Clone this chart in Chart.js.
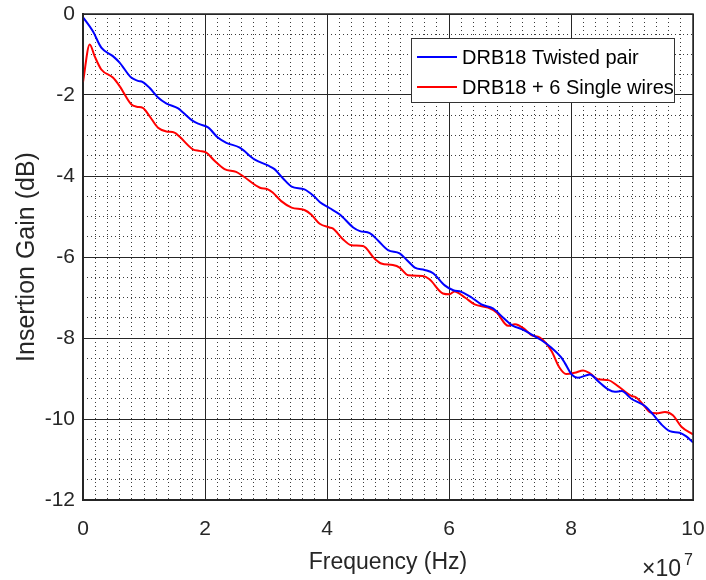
<!DOCTYPE html>
<html>
<head>
<meta charset="utf-8">
<script src="https://cdn.jsdelivr.net/npm/chart.js@4.4.0/dist/chart.umd.min.js"></script>
<style>
body { margin: 0; background: #fff; }
</style>
</head>
<body>
<canvas id="chart" width="706" height="580"></canvas>
<script>
// frequency in units of 1e7 Hz, gain in dB
const seriesNames = ['DRB18 Twisted pair', 'DRB18 + 6 Single wires'];
const seriesColors = ['#0000ff', '#ff0000'];
const xTicks = [0, 2, 4, 6, 8, 10];
const yTicks = [0, -2, -4, -6, -8, -10, -12];

const twistedFreq = [0.0, 0.16, 0.30, 0.49, 0.60, 0.79, 0.90, 0.98, 1.09, 1.23, 1.37, 1.56, 1.64, 1.80, 1.91, 2.05,
	2.21, 2.35, 2.57, 2.81, 3.03, 3.14, 3.28, 3.42, 3.63, 3.80, 3.88, 4.04, 4.21, 4.43, 4.54, 4.70, 4.84, 5.00,
	5.19, 5.30, 5.44, 5.60, 5.74, 5.93, 6.07, 6.20, 6.37, 6.53, 6.72, 6.89, 7.05, 7.19, 7.35, 7.51, 7.68, 7.84,
	7.90, 8.01, 8.11, 8.31, 8.44, 8.61, 8.72, 8.83, 8.99, 9.21, 9.34, 9.48, 9.62, 9.78, 9.89, 10.0];
const twistedGain = [-0.08, -0.42, -0.83, -1.04, -1.20, -1.57, -1.65, -1.68, -1.82, -2.06, -2.21, -2.33, -2.43, -2.64, -2.72, -2.80,
	-3.05, -3.18, -3.30, -3.59, -3.74, -3.83, -4.06, -4.26, -4.33, -4.52, -4.64, -4.79, -4.95, -5.27, -5.36, -5.41, -5.60, -5.83,
	-5.91, -6.06, -6.26, -6.32, -6.40, -6.70, -6.82, -6.86, -7.00, -7.17, -7.27, -7.50, -7.70, -7.78, -7.91, -8.05, -8.24, -8.48,
	-8.62, -8.90, -8.98, -8.90, -9.06, -9.27, -9.33, -9.31, -9.50, -9.68, -9.88, -10.13, -10.30, -10.34, -10.43, -10.58];

const singleFreq = [0.0, 0.11, 0.19, 0.30, 0.49, 0.60, 0.79, 0.88, 0.98, 1.09, 1.23, 1.37, 1.50, 1.59, 1.80, 1.91, 2.02,
	2.16, 2.32, 2.51, 2.62, 2.90, 3.03, 3.11, 3.25, 3.42, 3.63, 3.74, 3.88, 4.04, 4.10, 4.26, 4.40, 4.59, 4.78, 4.89,
	5.08, 5.19, 5.33, 5.57, 5.68, 5.90, 6.01, 6.09, 6.26, 6.42, 6.64, 6.78, 6.97, 7.08, 7.24, 7.35, 7.49, 7.68, 7.81,
	7.92, 8.06, 8.20, 8.31, 8.44, 8.61, 8.77, 8.99, 9.07, 9.18, 9.29, 9.40, 9.54, 9.67, 9.81, 10.0];
const singleGain = [-1.68, -0.75, -1.04, -1.37, -1.57, -1.78, -2.23, -2.29, -2.32, -2.52, -2.81, -2.90, -2.93, -3.04, -3.34, -3.38, -3.42,
	-3.63, -3.83, -3.90, -4.00, -4.29, -4.33, -4.41, -4.62, -4.78, -4.84, -4.95, -5.18, -5.27, -5.30, -5.56, -5.71, -5.73, -6.04, -6.16,
	-6.20, -6.26, -6.45, -6.47, -6.55, -6.90, -6.92, -6.85, -7.00, -7.17, -7.25, -7.37, -7.70, -7.66, -7.78, -7.93, -7.99, -8.32, -8.73,
	-8.89, -8.86, -8.80, -8.87, -9.02, -9.04, -9.19, -9.43, -9.47, -9.64, -9.83, -9.86, -9.83, -9.91, -10.19, -10.38];

const FONT = '"Liberation Sans", Arial, Helvetica, sans-serif';
const AXIS_COL = '#262626';

function toPoints(xs, ys){
	return xs.map((x, i) => ({x: x, y: ys[i]}));
}

function noEdgePadding(s){
	s.paddingLeft = 0;
	s.paddingRight = 0;
	s.paddingTop = 0;
	s.paddingBottom = 0;
}

// axes box, legend inside the plot and the x10^7 exponent
const extrasPlugin = {
	id: 'extras',
	afterDraw(chart){
		const ctx = chart.ctx;
		const a = chart.chartArea;
		ctx.save();
		ctx.strokeStyle = AXIS_COL;
		ctx.lineWidth = 1.5;
		ctx.strokeRect(a.left, a.top, a.right - a.left, a.bottom - a.top);

		// legend box
		const lx = 411, ly = 38, lw = 263, lh = 64;
		ctx.fillStyle = '#fff';
		ctx.fillRect(lx, ly, lw, lh);
		ctx.strokeStyle = '#333';
		ctx.lineWidth = 1;
		ctx.strokeRect(lx + 0.5, ly + 0.5, lw, lh);
		ctx.font = '20px ' + FONT;
		ctx.textBaseline = 'middle';
		chart.data.datasets.forEach((ds, i) => {
			const y = ly + 19 + i * 30;
			ctx.strokeStyle = ds.borderColor;
			ctx.lineWidth = 2;
			ctx.beginPath();
			ctx.moveTo(lx + 6, y);
			ctx.lineTo(lx + 46, y);
			ctx.stroke();
			ctx.fillStyle = '#000';
			ctx.fillText(ds.label, lx + 51, y + 1);
		});

		// exponent
		ctx.fillStyle = '#262626';
		ctx.textBaseline = 'alphabetic';
		ctx.font = '23px ' + FONT;
		ctx.fillText('\u00d710', 642, 576);
		ctx.font = '16px ' + FONT;
		ctx.fillText('7', 684, 565);
		ctx.restore();
	}
};

const ctx = document.getElementById('chart');

new Chart(ctx, {
	type: 'line',
	data: {
		datasets: [
			{
				label: seriesNames[0],
				data: toPoints(twistedFreq, twistedGain),
				borderColor: seriesColors[0],
				borderWidth: 2,
				pointRadius: 0,
				cubicInterpolationMode: 'monotone',
				fill: false
			},
			{
				label: seriesNames[1],
				data: toPoints(singleFreq, singleGain),
				borderColor: seriesColors[1],
				borderWidth: 2,
				pointRadius: 0,
				cubicInterpolationMode: 'monotone',
				fill: false
			}
		]
	},
	options: {
		responsive: false,
		animation: false,
		layout: { padding: { left: 0, top: 14, right: 13, bottom: 0 } },
		plugins: {
			legend: { display: false },
			tooltip: { enabled: false }
		},
		scales: {
			xm: {
				type: 'linear', position: 'bottom', min: 0, max: 10,
				ticks: { display: false, stepSize: 0.2, maxTicksLimit: 100, autoSkip: false },
				grid: { color: '#3a3a3a', lineWidth: 1, drawTicks: false },
				border: { display: false, dash: [1, 3] },
				afterFit(s){ s.height = 0; noEdgePadding(s); }
			},
			ym: {
				type: 'linear', position: 'left', min: -12, max: 0,
				ticks: { display: false, stepSize: 0.5, maxTicksLimit: 100, autoSkip: false },
				grid: { color: '#3a3a3a', lineWidth: 1, drawTicks: false },
				border: { display: false, dash: [1, 3] },
				afterFit(s){ s.width = 0; noEdgePadding(s); }
			},
			x: {
				type: 'linear', position: 'bottom', min: 0, max: 10,
				afterBuildTicks(s){ s.ticks = xTicks.map(v => ({value: v})); },
				ticks: { color: '#262626', font: { family: FONT, size: 21 }, padding: 17, maxRotation: 0 },
				grid: { color: AXIS_COL, lineWidth: 1, drawTicks: false },
				border: { display: true, color: AXIS_COL, width: 2 },
				title: { display: true, text: 'Frequency (Hz)', color: '#262626', font: { family: FONT, size: 23 }, padding: { top: 0, bottom: 4 } },
				afterFit(s){ s.height = 80; noEdgePadding(s); }
			},
			y: {
				type: 'linear', position: 'left', min: -12, max: 0,
				afterBuildTicks(s){ s.ticks = yTicks.map(v => ({value: v})); },
				ticks: { color: '#262626', font: { family: FONT, size: 21 }, padding: 8 },
				grid: { color: AXIS_COL, lineWidth: 1, drawTicks: false },
				border: { display: true, color: AXIS_COL, width: 2 },
				title: { display: true, text: 'Insertion Gain (dB)', color: '#262626', font: { family: FONT, size: 25 }, padding: { top: 12, bottom: 0 } },
				afterFit(s){ s.width = 83; noEdgePadding(s); }
			}
		}
	},
	plugins: [extrasPlugin]
});
</script>
</body>
</html>
